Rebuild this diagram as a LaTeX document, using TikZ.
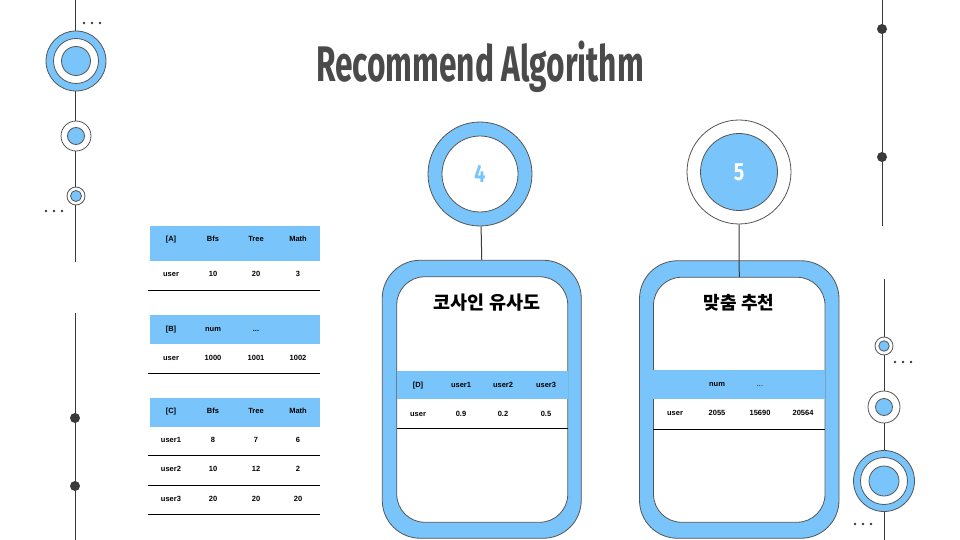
\documentclass[tikz,border=0pt]{standalone}
\usepackage{fontspec}
\usepackage{graphicx}
\setmainfont{Liberation Sans}
\newfontfamily\headfont{Fira Sans}
\newfontfamily\kofont{Noto Sans CJK KR}
\definecolor{skyblue}{HTML}{79C5FB}
\definecolor{rim}{HTML}{555555}
\definecolor{ink}{HTML}{3A3A3A}
\definecolor{titlegray}{HTML}{4A4A4A}

\tikzset{
  ring/.style={circle, draw=rim, line width=0.8pt, inner sep=0pt, minimum size=#1},
  bluedisc/.style={ring=#1, fill=skyblue},
  whitedisc/.style={ring=#1, fill=white},
  pin/.style={circle, fill=ink, inner sep=0pt, minimum size=10pt},
  tick/.style={circle, fill=ink, inner sep=0pt, minimum size=2.8pt},
  rail/.style={draw=ink, line width=1pt},
  cell/.style={font=\fontsize{7.5}{9}\selectfont\bfseries, inner sep=0pt,
               text height=5.4pt, text depth=0pt},
  band/.style={fill=skyblue, draw=none},
  rowrule/.style={draw=black, line width=0.9pt},
  panel/.style={rectangle, draw=rim, line width=0.8pt, inner sep=0pt},
  heading/.style={font=\kofont\bfseries\fontsize{18.5}{21}\selectfont, inner sep=0pt},
  badge/.style={font=\headfont\bfseries\fontsize{25}{28}\selectfont, inner sep=0pt}
}

\begin{document}
\begin{tikzpicture}[x=1pt,y=-1pt]
\useasboundingbox[fill=white] (0,0) rectangle (960,540);

% ---------- title ----------
\node[anchor=base, text=titlegray, inner sep=0pt,
      font=\headfont\bfseries\fontsize{50}{52}\selectfont] (title) at (480,82)
  {\resizebox{328pt}{\height}{Recommend Algorithm}};

% ---------- left rail, top ----------
\coordinate (lt0) at (75,0);
\coordinate (lt1) at (75,262);
\draw[rail] (lt0) -- (lt1);
\node[bluedisc=60pt]  (lbig)  at (76,61) {};
\node[whitedisc=45pt] (lbigw) at (76,61) {};
\node[bluedisc=29pt]  (lbigc) at (76,61) {};
\node[whitedisc=30pt] (lmid)  at (76,136) {};
\node[bluedisc=17pt]  (lmidc) at (76,136) {};
\node[whitedisc=18pt] (lsml)  at (76,196) {};
\node[bluedisc=11pt]  (lsmlc) at (76,196) {};
\foreach \i/\x in {1/84,2/92,3/100} \node[tick] (ld\i) at (\x,23) {};
\foreach \i/\x in {1/46,2/54,3/62} \node[tick] (le\i) at (\x,211) {};

% ---------- left rail, bottom ----------
\coordinate (lb0) at (75,313);
\coordinate (lb1) at (75,540);
\draw[rail] (lb0) -- (lb1);
\node[pin] (lp1) at (75,418) {};
\node[pin] (lp2) at (75,486) {};

% ---------- right rail, top ----------
\coordinate (rt0) at (882,0);
\coordinate (rt1) at (882,226);
\draw[rail] (rt0) -- (rt1);
\node[pin] (rp1) at (882,29) {};
\node[pin] (rp2) at (882,157) {};

% ---------- right rail, bottom ----------
\coordinate (rb0) at (884,279);
\coordinate (rb1) at (884,540);
\draw[rail] (rb0) -- (rb1);
\node[whitedisc=18pt] (rsml)  at (884,346) {};
\node[bluedisc=10.5pt](rsmlc) at (884,346) {};
\node[whitedisc=32pt] (rmid)  at (884,407) {};
\node[bluedisc=17pt]  (rmidc) at (884,407) {};
\node[bluedisc=61pt]  (rbig)  at (884,481) {};
\node[whitedisc=47pt] (rbigw) at (884,481) {};
\node[bluedisc=30pt]  (rbigc) at (884,481) {};
\foreach \i/\x in {1/895,2/903,3/911} \node[tick] (rd\i) at (\x,362) {};
\foreach \i/\x in {1/855,2/863,3/871} \node[tick] (re\i) at (\x,524) {};

% ---------- table [A] ----------
\fill[band] (150,226) rectangle (320,261);
\node[cell] (a00) at (171,239) {[A]};
\node[cell] (a01) at (213,239) {Bfs};
\node[cell] (a02) at (256,239) {Tree};
\node[cell] (a03) at (298,239) {Math};
\node[cell] (a10) at (171,274) {user};
\node[cell] (a11) at (213,274) {10};
\node[cell] (a12) at (256,274) {20};
\node[cell] (a13) at (298,274) {3};
\draw[rowrule] (148,290) -- (320,290);

% ---------- table [B] ----------
\fill[band] (150,315) rectangle (320,344);
\node[cell] (b00) at (171,329) {[B]};
\node[cell] (b01) at (213,329) {num};
\node[cell] (b02) at (256,329) {...};
\node[cell] (b10) at (171,358) {user};
\node[cell] (b11) at (213,358) {1000};
\node[cell] (b12) at (256,358) {1001};
\node[cell] (b13) at (298,358) {1002};
\draw[rowrule] (148,373) -- (320,373);

% ---------- table [C] ----------
\fill[band] (150,398) rectangle (320,427);
\node[cell] (c00) at (171,411) {[C]};
\node[cell] (c01) at (213,411) {Bfs};
\node[cell] (c02) at (256,411) {Tree};
\node[cell] (c03) at (298,411) {Math};
\node[cell] (c10) at (171,440) {user1};
\node[cell] (c11) at (213,440) {8};
\node[cell] (c12) at (256,440) {7};
\node[cell] (c13) at (298,440) {6};
\draw[rowrule] (148,455.5) -- (320,455.5);
\node[cell] (c20) at (171,469) {user2};
\node[cell] (c21) at (213,469) {10};
\node[cell] (c22) at (256,469) {12};
\node[cell] (c23) at (298,469) {2};
\draw[rowrule] (148,485.5) -- (320,485.5);
\node[cell] (c30) at (171,499) {user3};
\node[cell] (c31) at (213,499) {20};
\node[cell] (c32) at (256,499) {20};
\node[cell] (c33) at (298,499) {20};
\draw[rowrule] (148,514.5) -- (320,514.5);

% ---------- step 4 : cosine similarity ----------
\node[bluedisc=104pt]  (s4)  at (480,174) {};
\node[whitedisc=76pt]  (s4w) at (480,174) {};
\node[badge, text=skyblue] (s4n) at (480,174) {\scalebox{0.78}[1]{4}};
\node[panel, fill=skyblue, rounded corners=38pt,
      minimum width=199pt, minimum height=278pt] (box4) at (481.75,399.25) {};
\node[panel, fill=white, rounded corners=28pt,
      minimum width=171pt, minimum height=245.5pt] (in4) at (482.25,399.5) {};
\draw[rail, draw=ink] (s4) -- (box4.north);
\node[heading] (t4) at (487,303) {코사인 유사도};
\fill[band] (397,371) rectangle (568,399);
\node[cell] (d00) at (418,385) {[D]};
\node[cell] (d01) at (461,385) {user1};
\node[cell] (d02) at (503,385) {user2};
\node[cell] (d03) at (546,385) {user3};
\node[cell] (d10) at (418,414) {user};
\node[cell] (d11) at (461,414) {0.9};
\node[cell] (d12) at (503,414) {0.2};
\node[cell] (d13) at (546,414) {0.5};
\draw[rowrule] (397,428.5) -- (568,428.5);

% ---------- step 5 : personalised recommendation ----------
\node[whitedisc=104pt] (s5)  at (739,172) {};
\node[bluedisc=77pt]   (s5b) at (739,172) {};
\node[badge, text=white] (s5n) at (739,172) {\scalebox{0.78}[1]{5}};
\node[panel, fill=skyblue, rounded corners=38pt,
      minimum width=199.5pt, minimum height=277.5pt] (box5) at (739.25,399.5) {};
\node[panel, fill=white, rounded corners=28pt,
      minimum width=171.5pt, minimum height=245pt] (in5) at (739.25,399.75) {};
\draw[rail, draw=ink] (s5) -- (in5.north);
\node[heading, font=\kofont\bfseries\fontsize{18}{21}\selectfont] (t5) at (739,303) {맞춤 추천};
\fill[band] (653,370) rectangle (825,399);
\node[cell] (e01) at (717,384) {num};
\node[cell, font=\fontsize{7.5}{9}\selectfont] (e02) at (760,384) {...};
\node[cell] (e10) at (675,413) {user};
\node[cell] (e11) at (717,413) {2055};
\node[cell] (e12) at (760,413) {15690};
\node[cell] (e13) at (803,413) {20564};
\draw[rowrule] (653,429.5) -- (825,429.5);
\end{tikzpicture}
\end{document}
